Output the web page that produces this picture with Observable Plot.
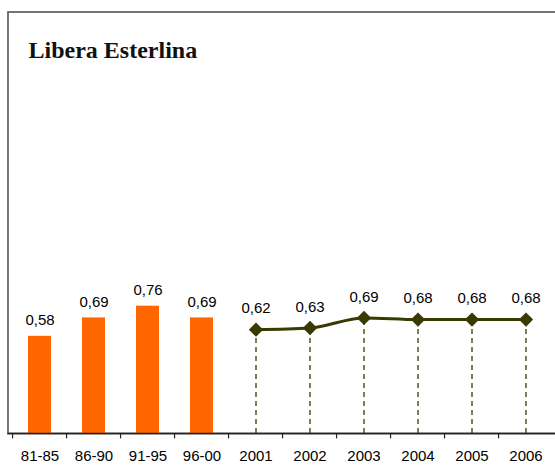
<!DOCTYPE html>
<html>
<head>
<meta charset="utf-8">
<script src="https://cdn.jsdelivr.net/npm/d3@7"></script>
<script src="https://cdn.jsdelivr.net/npm/@observablehq/plot@0.6"></script>
<style>
  html, body { margin: 0; padding: 0; background: #fff; }
  #chart svg { display: block; }
</style>
</head>
<body>
<div id="chart"></div>
<script>
const title = "Libera Esterlina";
const categories = ["81-85", "86-90", "91-95", "96-00", "2001", "2002", "2003", "2004", "2005", "2006"];
const barCategories = ["81-85", "86-90", "91-95", "96-00"];
const barValues = [0.58, 0.69, 0.76, 0.69];
const lineCategories = ["2001", "2002", "2003", "2004", "2005", "2006"];
const lineValues = [0.62, 0.63, 0.69, 0.68, 0.68, 0.68];

const fmt = v => v.toFixed(2).replace(".", ",");
const bars = barCategories.map((c, i) => ({cat: c, value: barValues[i]}));
const pts = lineCategories.map((c, i) => ({cat: c, value: lineValues[i]}));

const orange = "#ff6600";
const olive = "#3a3a00";

const chart = Plot.plot({
  width: 555,
  height: 466,
  marginLeft: 7.5,
  marginRight: -3,
  marginTop: 11.5,
  marginBottom: 33,
  style: {fontFamily: "Liberation Sans, Arial, sans-serif", background: "#fff"},
  x: {domain: categories, range: [7.5, 556.5], paddingInner: 0.58, paddingOuter: 0.29, label: null},
  y: {domain: [0, 2.5164], axis: null},
  marks: [
    Plot.frame({stroke: "#666", strokeWidth: 1.8}),
    Plot.barY(bars, {x: "cat", y: "value", fill: orange}),
    Plot.ruleX(pts, {x: "cat", y1: 0, y2: "value", stroke: olive, strokeWidth: 1.3, strokeDasharray: "5,4"}),
    Plot.line(pts, {x: "cat", y: "value", stroke: olive, strokeWidth: 3, curve: "monotone-x"}),
    Plot.dot(pts, {x: "cat", y: "value", symbol: "diamond2", r: 5.5, fill: olive, stroke: olive}),
    Plot.ruleY([0], {stroke: "#222", strokeWidth: 1.5}),
    Plot.ruleX(categories, {x: d => d, y1: 0, y2: -0.032, dx: -27.45, stroke: "#222", strokeWidth: 1.2}),
    Plot.axisX({tickSize: 0, tickPadding: 17, fontSize: 15, fill: "#000", label: null}),
    Plot.text(bars, {x: "cat", y: "value", text: d => fmt(d.value), dy: -16, lineAnchor: "middle", fontSize: 15, fill: "#000"}),
    Plot.text(pts, {x: "cat", y: "value", text: d => fmt(d.value), dy: -21, lineAnchor: "middle", fontSize: 15, fill: "#000"}),
    Plot.text([title], {frameAnchor: "top-left", text: d => d, dx: 20.5, dy: 28.5, textAnchor: "start", lineAnchor: "top",
      fontFamily: "Liberation Serif, Times New Roman, serif", fontSize: 24, fontWeight: "bold", fill: "#111"})
  ]
});
document.getElementById("chart").appendChild(chart);
</script>
</body>
</html>
